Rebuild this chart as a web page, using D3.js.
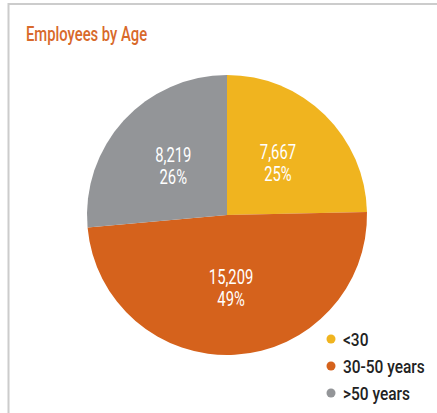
<!DOCTYPE html>
<html>
<head>
<meta charset="utf-8">
<script src="https://cdn.jsdelivr.net/npm/d3@7"></script>
<style>
  body { margin: 0; background: #fff; }
  svg text { font-family: "Roboto", "Liberation Sans", sans-serif; }
</style>
</head>
<body>
<div id="chart"></div>
<script>
var categories = ["<30", "30-50 years", ">50 years"];
var values = [7667, 15209, 8219];
var percents = ["25%", "49%", "26%"];
var colors = ["#f0b41f", "#d5621c", "#939598"];

var width = 437, height = 413;
var cx = 227, cy = 215, radius = 140;
var narrow = 0.74; // squeeze Roboto towards the condensed face of the original

var svg = d3.select("#chart").append("svg")
    .attr("width", width)
    .attr("height", height);

// frame
svg.append("line").attr("x1", 8).attr("x2", width).attr("y1", 4).attr("y2", 4)
    .attr("stroke", "#cccccc").attr("stroke-width", 2);
svg.append("line").attr("x1", 8.5).attr("x2", 8.5).attr("y1", 3).attr("y2", height)
    .attr("stroke", "#cccccc").attr("stroke-width", 2);

svg.append("g").attr("transform", "translate(26,41) scale(" + narrow + ",1)")
  .append("text")
    .attr("fill", "#d8692b")
    .attr("font-size", 20)
    .attr("font-weight", 500)
    .text("Employees by Age");

var pie = d3.pie().sort(null).value(function(d) { return d; });
var arcs = pie(values);
var arc = d3.arc().innerRadius(0).outerRadius(radius);
var labelArc = d3.arc().innerRadius(radius * 0.52).outerRadius(radius * 0.52);

var g = svg.append("g").attr("transform", "translate(" + cx + "," + cy + ")");

g.selectAll("path").data(arcs).enter().append("path")
    .attr("d", arc)
    .attr("fill", function(d, i) { return colors[i]; });

var fmt = d3.format(",");
var lbl = g.selectAll(".lbl").data(arcs).enter().append("g")
    .attr("class", "lbl")
    .attr("transform", function(d) {
        var c = labelArc.centroid(d);
        return "translate(" + c[0] + "," + c[1] + ") scale(" + narrow + ",1)";
    })
  .append("text")
    .attr("text-anchor", "middle")
    .attr("fill", "#fff")
    .attr("font-size", 20);
lbl.append("tspan").attr("x", 0).attr("dy", -4).text(function(d) { return fmt(d.data); });
lbl.append("tspan").attr("x", 0).attr("dy", 22).text(function(d, i) { return percents[i]; });

var legend = svg.append("g").attr("transform", "translate(331,339)");
var item = legend.selectAll("g").data(categories).enter().append("g")
    .attr("transform", function(d, i) { return "translate(0," + (i * 27) + ")"; });
item.append("circle").attr("r", 4.5).attr("fill", function(d, i) { return colors[i]; });
item.append("g").attr("transform", "translate(12,6.5) scale(0.86,1)")
  .append("text")
    .attr("fill", "#222")
    .attr("font-size", 18)
    .attr("font-weight", 500)
    .text(function(d) { return d; });
</script>
</body>
</html>
